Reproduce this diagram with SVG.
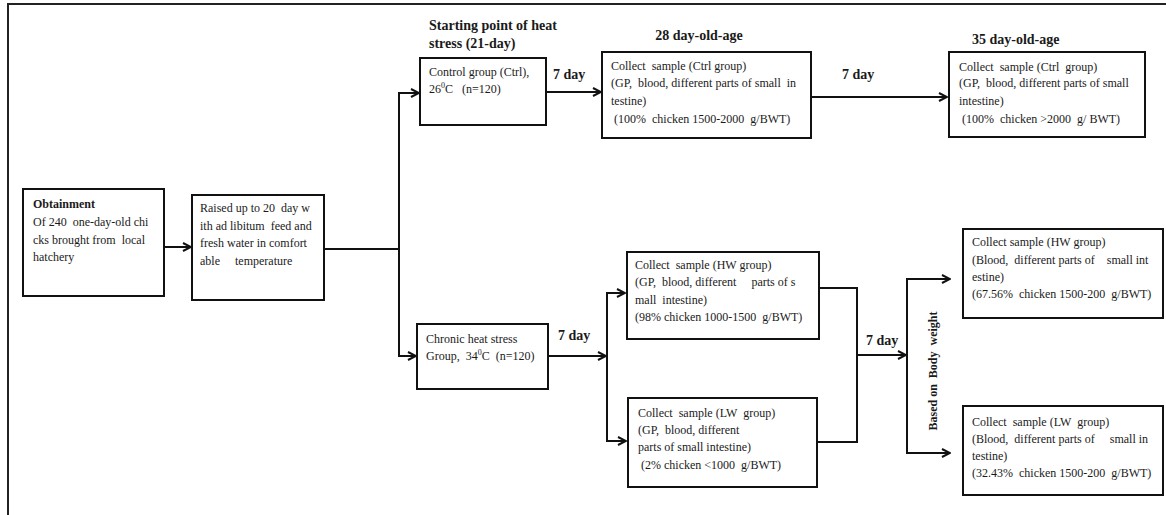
<svg xmlns="http://www.w3.org/2000/svg" width="1166" height="515" viewBox="0 0 1166 515">
<style>
.bg{fill:#fff}
.box{fill:#fff;stroke:#111;stroke-width:2}
.frame{fill:none;stroke:#222;stroke-width:2}
.c{fill:none;stroke:#111;stroke-width:2}
.t{font-family:"Liberation Serif","Times New Roman",serif;font-size:12px;fill:#1a1a1a;white-space:pre}
.b{font-weight:bold}
.h{font-family:"Liberation Serif","Times New Roman",serif;font-size:14px;font-weight:bold;fill:#1a1a1a;white-space:pre}
</style>
<defs>
<marker id="arr" viewBox="0 0 10 10" refX="9" refY="5" markerWidth="10" markerHeight="10" markerUnits="userSpaceOnUse" orient="auto">
<path d="M1,1 L9,5 L1,9" fill="none" stroke="#111" stroke-width="2"/>
</marker>
</defs>
<rect class="bg" x="0" y="0" width="1166" height="515"/>
<path class="frame" d="M8,515 V4 H1166"/>

<g id="connectors">
<path class="c" d="M164,247 H191" marker-end="url(#arr)"/>
<path class="c" d="M324,249 H399 V93 H419" marker-end="url(#arr)"/>
<path class="c" d="M399,249 V356 H416" marker-end="url(#arr)"/>
<path class="c" d="M546,92 H601" marker-end="url(#arr)"/>
<path class="c" d="M811,97 H947" marker-end="url(#arr)"/>
<path class="c" d="M548,356 H606" marker-end="url(#arr)"/>
<path class="c" d="M607,356 V293 H625" marker-end="url(#arr)"/>
<path class="c" d="M607,356 V441 H626" marker-end="url(#arr)"/>
<path class="c" d="M819,288 H857 V442 H817"/>
<path class="c" d="M857,355 H906" marker-end="url(#arr)"/>
<path class="c" d="M907,355 V279 H950" marker-end="url(#arr)"/>
<path class="c" d="M907,355 V453 H950" marker-end="url(#arr)"/>
</g>

<g id="labels">
<text class="h" x="429" y="30">Starting point of heat</text>
<text class="h" x="429" y="48">stress (21-day)</text>
<text class="h" x="699" y="40" text-anchor="middle">28 day-old-age</text>
<text class="h" x="972" y="44">35 day-old-age</text>
<text class="h" x="553" y="79">7 day</text>
<text class="h" x="842" y="79">7 day</text>
<text class="h" x="558" y="340">7 day</text>
<text class="h" x="866" y="345">7 day</text>
<text class="t b" transform="translate(937,371) rotate(-90)" text-anchor="middle">Based on  Body  weight</text>
</g>

<g id="obtainment">
<rect class="box" x="23" y="189" width="141" height="107"/>
<text class="t b" x="33" y="208">Obtainment</text>
<text class="t" x="33" y="226">Of 240  one-day-old chi</text>
<text class="t" x="33" y="244">cks brought from  local</text>
<text class="t" x="33" y="261">hatchery</text>
</g>

<g id="raised">
<rect class="box" x="192" y="195" width="132" height="105"/>
<text class="t" x="200" y="212">Raised up to 20  day w</text>
<text class="t" x="200" y="230">ith ad libitum  feed and</text>
<text class="t" x="200" y="247">fresh water in comfort</text>
<text class="t" x="200" y="265">able     temperature</text>
</g>

<g id="control">
<rect class="box" x="420" y="58" width="126" height="67"/>
<text class="t" x="429" y="76">Control group (Ctrl),</text>
<text class="t" x="429" y="93">26<tspan font-size="8" dy="-5">0</tspan><tspan dy="5">C   (n=120)</tspan></text>
</g>

<g id="ctrl28">
<rect class="box" x="602" y="52" width="209" height="86"/>
<text class="t" x="611" y="70">Collect  sample (Ctrl group)</text>
<text class="t" x="611" y="87">(GP,  blood, different parts of small  in</text>
<text class="t" x="611" y="105">testine)</text>
<text class="t" x="611" y="123"> (100%  chicken 1500-2000  g/BWT)</text>
</g>

<g id="ctrl35">
<rect class="box" x="949" y="52" width="196" height="85"/>
<text class="t" x="959" y="71">Collect  sample (Ctrl  group)</text>
<text class="t" x="959" y="87">(GP,  blood, different parts of small</text>
<text class="t" x="959" y="105">intestine)</text>
<text class="t" x="959" y="123"> (100%  chicken &gt;2000  g/ BWT)</text>
</g>

<g id="chronic">
<rect class="box" x="417" y="324" width="131" height="65"/>
<text class="t" x="426" y="343">Chronic heat stress</text>
<text class="t" x="426" y="360">Group,  34<tspan font-size="8" dy="-5">0</tspan><tspan dy="5">C  (n=120)</tspan></text>
</g>

<g id="hw28">
<rect class="box" x="627" y="252" width="192" height="87"/>
<text class="t" x="635" y="269">Collect  sample (HW group)</text>
<text class="t" x="635" y="286">(GP,  blood, different     parts of s</text>
<text class="t" x="635" y="304">mall  intestine)</text>
<text class="t" x="635" y="321">(98% chicken 1000-1500  g/BWT)</text>
</g>

<g id="lw28">
<rect class="box" x="628" y="398" width="189" height="89"/>
<text class="t" x="638" y="417">Collect  sample (LW  group)</text>
<text class="t" x="638" y="434">(GP,  blood, different</text>
<text class="t" x="638" y="451">parts of small intestine)</text>
<text class="t" x="638" y="469"> (2% chicken &lt;1000  g/BWT)</text>
</g>

<g id="hw35">
<rect class="box" x="963" y="229" width="200" height="89"/>
<text class="t" x="972" y="246">Collect sample (HW group)</text>
<text class="t" x="972" y="264">(Blood,  different parts of    small int</text>
<text class="t" x="972" y="281">estine)</text>
<text class="t" x="972" y="298">(67.56%  chicken 1500-200  g/BWT)</text>
</g>

<g id="lw35">
<rect class="box" x="963" y="406" width="200" height="89"/>
<text class="t" x="972" y="426">Collect  sample (LW  group)</text>
<text class="t" x="972" y="443">(Blood,  different parts of     small in</text>
<text class="t" x="972" y="460">testine)</text>
<text class="t" x="972" y="477">(32.43%  chicken 1500-200  g/BWT)</text>
</g>
</svg>
